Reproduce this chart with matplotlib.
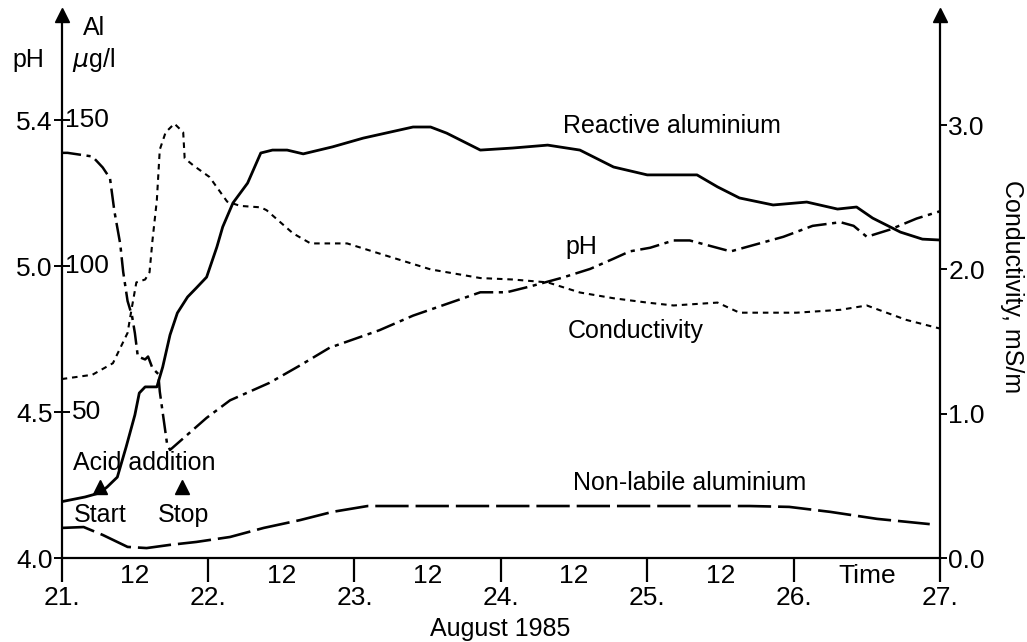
import numpy as np
from matplotlib import pyplot as plt

plt.rcParams['font.family'] = ['Liberation Sans', 'DejaVu Sans']
plt.rcParams['lines.scale_dashes'] = False

#---------------------------------------------------------------------------------------
# Data (time in days of August 1985)
#---------------------------------------------------------------------------------------

t_react = [21.00, 21.16, 21.26, 21.31, 21.38, 21.44, 21.50, 21.53, 21.57, 21.65, 21.69,
           21.74, 21.79, 21.86, 21.92, 21.99, 22.06, 22.10, 22.17, 22.27, 22.36, 22.44,
           22.54, 22.65, 22.85, 23.06, 23.40, 23.52, 23.63, 23.86, 24.08, 24.32, 24.54,
           24.77, 25.00, 25.34, 25.48, 25.63, 25.86, 26.09, 26.30, 26.43, 26.54, 26.73,
           26.88, 27.00]
al_react = [19.3, 20.9, 22.3, 24.3, 27.7, 38.0, 49.0, 56.5, 58.6, 58.6, 65.4,
            76.4, 83.9, 89.4, 92.5, 96.2, 106.5, 113.4, 121.6, 128.4, 138.7, 139.7,
            139.7, 138.4, 140.8, 143.8, 147.6, 147.6, 145.5, 139.7, 140.4, 141.4, 139.7,
            133.9, 131.2, 131.2, 127.1, 123.3, 120.9, 121.9, 119.5, 120.2, 116.4, 111.6,
            109.2, 108.9]

t_ph = [21.00, 21.04, 21.21, 21.28, 21.33, 21.36, 21.40, 21.42, 21.45, 21.48, 21.50,
        21.52, 21.57, 21.59, 21.62, 21.66, 21.67, 21.72, 21.74, 21.99, 22.15, 22.42,
        22.63, 22.83, 23.17, 23.40, 23.63, 23.86, 24.04, 24.20, 24.42, 24.61, 24.77,
        24.88, 25.02, 25.18, 25.29, 25.57, 25.75, 25.93, 26.13, 26.32, 26.41, 26.50,
        26.66, 26.84, 27.00]
ph = [5.31, 5.31, 5.30, 5.27, 5.24, 5.15, 5.06, 4.98, 4.88, 4.83, 4.77,
      4.69, 4.68, 4.69, 4.65, 4.63, 4.57, 4.39, 4.37, 4.48, 4.54, 4.60,
      4.66, 4.72, 4.78, 4.83, 4.87, 4.91, 4.91, 4.93, 4.96, 4.99, 5.02,
      5.04, 5.05, 5.07, 5.07, 5.04, 5.06, 5.08, 5.11, 5.12, 5.11, 5.08,
      5.10, 5.13, 5.15]

t_cond = [21.00, 21.21, 21.35, 21.45, 21.48, 21.51, 21.57, 21.60, 21.62, 21.65, 21.67,
          21.71, 21.77, 21.83, 21.84, 21.90, 22.01, 22.13, 22.22, 22.36, 22.40, 22.58,
          22.70, 22.95, 23.17, 23.52, 23.86, 24.08, 24.32, 24.54, 24.77, 25.00, 25.18,
          25.48, 25.63, 26.02, 26.32, 26.50, 26.77, 27.00]
cond = [1.24, 1.27, 1.35, 1.56, 1.74, 1.91, 1.93, 1.98, 2.20, 2.48, 2.83,
        2.95, 3.01, 2.95, 2.77, 2.72, 2.64, 2.47, 2.44, 2.43, 2.41, 2.25,
        2.18, 2.18, 2.11, 2.00, 1.94, 1.93, 1.91, 1.84, 1.80, 1.77, 1.75,
        1.77, 1.70, 1.70, 1.72, 1.75, 1.65, 1.59]

t_nonlab = [21.00, 21.15, 21.28, 21.45, 21.58, 21.74, 21.92, 22.15, 22.38, 22.63, 22.85,
            23.09, 25.70, 25.97, 26.25, 26.57, 26.93]
al_nonlab = [10.3, 10.6, 7.9, 3.8, 3.4, 4.5, 5.5, 7.2, 10.3, 13.0, 15.8,
             17.8, 17.8, 17.5, 15.8, 13.4, 11.6]

# pH scale on the left axis is drawn against the Al scale
ph_ticks = [4.0, 4.5, 5.0, 5.4]
al_ticks = [0, 50, 100, 150]
cond_ticks = [0.0, 1.0, 2.0, 3.0]

days = [21, 22, 23, 24, 25, 26, 27]
halfdays = [21.5, 22.5, 23.5, 24.5, 25.5, 26.5]
halfday_labels = ['12', '12', '12', '12', '12', 'Time']

#---------------------------------------------------------------------------------------
# Figure
#---------------------------------------------------------------------------------------

W, H = 1027, 642
fig = plt.figure(figsize=(W/100, H/100), dpi=100)
ax = fig.add_axes([61.7/W, 84/H, (940-61.7)/W, 543/H])
ax2 = ax.twinx()

fs = 18     # text labels
fn = 19     # numbers
ax.set_xlim(21, 27)
ax.set_ylim(0, 543/2.92)
ax2.set_ylim(0, 543/144.3)

for a in (ax, ax2):
    a.spines['top'].set_visible(False)
    for s in ('left', 'right', 'bottom'):
        a.spines[s].set_linewidth(1.6)

ax.spines['right'].set_visible(False)
ax2.spines['left'].set_visible(False)
ax2.spines['bottom'].set_visible(False)

ax.plot([0], [1], marker='^', ms=10, color='k', transform=ax.transAxes, clip_on=False)
ax.plot([1], [1], marker='^', ms=10, color='k', transform=ax.transAxes, clip_on=False)

ax.set_xticks(days)
ax.set_xticklabels(['%d.' % d for d in days], fontsize=fn)
ax.set_xticks(halfdays, minor=True)
ax.set_xticklabels(halfday_labels, minor=True, fontsize=fn)
ax.tick_params(axis='x', which='major', direction='out', length=17, width=1.6, pad=3)
ax.tick_params(axis='x', which='minor', length=0, pad=4)

ax.set_yticks(al_ticks)
ax.set_yticklabels(['%.1f' % p for p in ph_ticks], fontsize=fn)
ax.tick_params(axis='y', direction='inout', length=11, width=1.4, pad=1)
for v, dx in zip(al_ticks[1:], [0.012, 0.004, 0.004]):
    ax.text(dx, v, str(v), fontsize=fn, ha='left', va='center',
            transform=ax.get_yaxis_transform())

ax2.set_yticks(cond_ticks)
ax2.set_yticklabels(['%.1f' % c for c in cond_ticks], fontsize=fn)
ax2.tick_params(axis='y', direction='out', length=5, width=1.4, pad=1)
ax2.set_ylabel('Conductivity, mS/m', fontsize=fs, rotation=270, labelpad=28)

# curves
ph_al = np.interp(ph, ph_ticks, al_ticks)
ax.plot(t_react, al_react, color='k', lw=2.0)
ax.plot(t_ph, ph_al, color='k', lw=1.8, dashes=(14, 4, 3, 4))
ax2.plot(t_cond, cond, color='k', lw=1.5, dashes=(4, 3.5))
ax.plot(t_nonlab, al_nonlab, color='k', lw=1.9, dashes=(24, 5))

# acid addition start / stop
ax.plot([21.26, 21.82], [24.3, 24.3], ls='none', marker='^', ms=10, color='k')
ax.text(21.077, 30.1, 'Acid addition', fontsize=fs, va='baseline', ha='left')
ax.text(21.262, 12.3, 'Start', fontsize=fs, va='baseline', ha='center')
ax.text(21.83, 12.3, 'Stop', fontsize=fs, va='baseline', ha='center')

# curve labels
ax.text(24.425, 145.5, 'Reactive aluminium', fontsize=fs, va='baseline')
ax.text(24.44, 104.1, 'pH', fontsize=fs, va='baseline')
ax.text(24.46, 75.3, 'Conductivity', fontsize=fs, va='baseline')
ax.text(24.49, 23.3, 'Non-labile aluminium', fontsize=fs, va='baseline')

# axis headings
fig.text(28/W, 1 - 67/H, 'pH', fontsize=fs, ha='center', va='baseline')
fig.text(83/W, 1 - 35/H, 'Al', fontsize=fs, ha='left', va='baseline')
fig.text(72/W, 1 - 67/H, r'$\mu$g/l', fontsize=fs, ha='left', va='baseline')
fig.text(500/W, 1 - 636/H, 'August 1985', fontsize=fs, ha='center', va='baseline')

fig.savefig('out.png', dpi=100)
